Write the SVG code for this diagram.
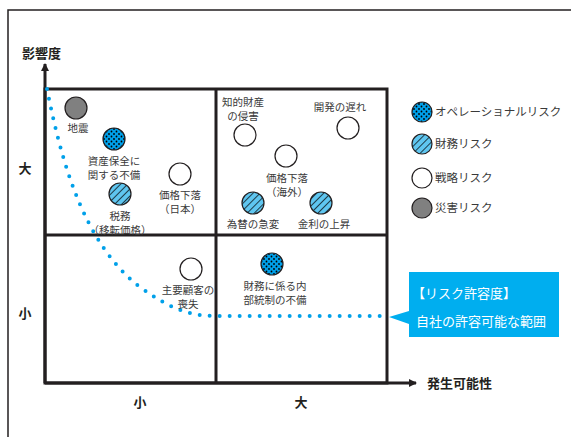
<svg xmlns="http://www.w3.org/2000/svg" width="571" height="437" viewBox="0 0 571 437">
<defs>
<pattern id="dots" patternUnits="userSpaceOnUse" width="5" height="5">
<rect width="5" height="5" fill="#00a0e9"/>
<circle cx="1.5" cy="1.5" r="0.9" fill="#000"/>
<circle cx="4" cy="4" r="0.9" fill="#000"/>
</pattern>
<pattern id="hatch" patternUnits="userSpaceOnUse" width="5" height="5" patternTransform="rotate(45)">
<rect width="5" height="5" fill="#5fc6f0"/>
<line x1="0" y1="0" x2="0" y2="5" stroke="#000" stroke-width="1.4"/>
</pattern>
<marker id="arr" markerWidth="8" markerHeight="8" refX="7" refY="4" orient="auto" markerUnits="userSpaceOnUse">
<path d="M0,0 L8,4 L0,8 Z" fill="#231f20"/>
</marker>
</defs>
<style>
.lbl{font-family:"Noto Sans CJK JP","Noto Sans CJK SC",sans-serif;font-size:10.5px;fill:#3a3a3a;text-anchor:middle}
.ax{font-family:"Noto Sans CJK JP",sans-serif;font-size:13px;font-weight:bold;fill:#231f20}
.axc{text-anchor:middle}
.leg{font-family:"Noto Sans CJK JP",sans-serif;font-size:11.5px;fill:#3a3a3a}
.c{stroke:#231f20;stroke-width:1.2}
.grid{stroke:#231f20;stroke-width:3;fill:none}
.cw{fill:#fff}
.cg{fill:#808080}
.cd{fill:url(#dots)}
.ch{fill:url(#hatch)}
.call{font-family:"Noto Sans CJK JP",sans-serif;font-size:13px;fill:#fff}
</style>
<rect x="0" y="0" width="571" height="437" fill="#fff"/>
<rect x="8" y="10" width="600" height="460" fill="none" stroke="#231f20" stroke-width="1.5"/>

<g id="grid">
<rect class="grid" x="45" y="89" width="342" height="294"/>
<line class="grid" x1="216" y1="89" x2="216" y2="383"/>
<line class="grid" x1="45" y1="235" x2="387" y2="235"/>
</g>

<g id="connectors">
<line x1="45" y1="383" x2="45" y2="64" stroke="#231f20" stroke-width="3" marker-end="url(#arr)"/>
<line x1="45" y1="383" x2="416" y2="383" stroke="#231f20" stroke-width="3" marker-end="url(#arr)"/>
<path d="M47,89 C62,165 85,245 140,287 C170,309 190,316 216,316 L386,316" fill="none" stroke="#00a0e9" stroke-width="4" stroke-linecap="round" stroke-dasharray="0 10"/>
</g>

<g id="axis-labels">
<text class="ax" x="22" y="58">影響度</text>
<text class="ax" x="427" y="388">発生可能性</text>
<text class="ax axc" x="25" y="173">大</text>
<text class="ax axc" x="25" y="318">小</text>
<text class="ax axc" x="140" y="407">小</text>
<text class="ax axc" x="301" y="407">大</text>
</g>

<g id="n-jishin"><circle class="c cg" cx="76" cy="108" r="11"/><text class="lbl" x="78" y="132">地震</text></g>
<g id="n-shisan"><circle class="c cd" cx="114" cy="139" r="11"/><text class="lbl" x="114" y="165">資産保全に</text><text class="lbl" x="114" y="179">関する不備</text></g>
<g id="n-zeimu"><circle class="c ch" cx="120" cy="194" r="11"/><text class="lbl" x="120" y="220">税務</text><text class="lbl" x="120" y="234">（移転価格）</text></g>
<g id="n-kakaku-jp"><circle class="c cw" cx="180" cy="174" r="11"/><text class="lbl" x="180" y="199">価格下落</text><text class="lbl" x="180" y="213">（日本）</text></g>
<g id="n-chiteki"><circle class="c cw" cx="245" cy="135" r="11"/><text class="lbl" x="243" y="106">知的財産</text><text class="lbl" x="243" y="120">の侵害</text></g>
<g id="n-kaihatsu"><circle class="c cw" cx="348" cy="128" r="11"/><text class="lbl" x="340" y="111">開発の遅れ</text></g>
<g id="n-kakaku-kaigai"><circle class="c cw" cx="286" cy="156" r="11"/><text class="lbl" x="287" y="182">価格下落</text><text class="lbl" x="287" y="196">（海外）</text></g>
<g id="n-kawase"><circle class="c ch" cx="253" cy="203" r="11"/><text class="lbl" x="253" y="228">為替の急変</text></g>
<g id="n-kinri"><circle class="c ch" cx="321" cy="203" r="11"/><text class="lbl" x="324" y="228">金利の上昇</text></g>
<g id="n-kokyaku"><circle class="c cw" cx="191" cy="269" r="11"/><text class="lbl" x="188" y="294">主要顧客の</text><text class="lbl" x="188" y="308">喪失</text></g>
<g id="n-naibu"><circle class="c cd" cx="272" cy="264" r="11"/><text class="lbl" x="275" y="290">財務に係る内</text><text class="lbl" x="275" y="304">部統制の不備</text></g>

<g id="legend">
<circle class="c cd" cx="422" cy="112" r="10"/><text class="leg" x="435" y="116">オペレーショナルリスク</text>
<circle class="c ch" cx="422" cy="144" r="10"/><text class="leg" x="435" y="148">財務リスク</text>
<circle class="c cw" cx="422" cy="178" r="10"/><text class="leg" x="435" y="182">戦略リスク</text>
<circle class="c cg" cx="422" cy="208" r="10"/><text class="leg" x="435" y="212">災害リスク</text>
</g>

<g id="callout">
<path d="M409,272 H559 V337 H409 V324 L389,317 L409,311 Z" fill="#00aeef"/>
<text class="call" x="412" y="298">【リスク許容度】</text>
<text class="call" x="416" y="326">自社の許容可能な範囲</text>
</g>
</svg>
